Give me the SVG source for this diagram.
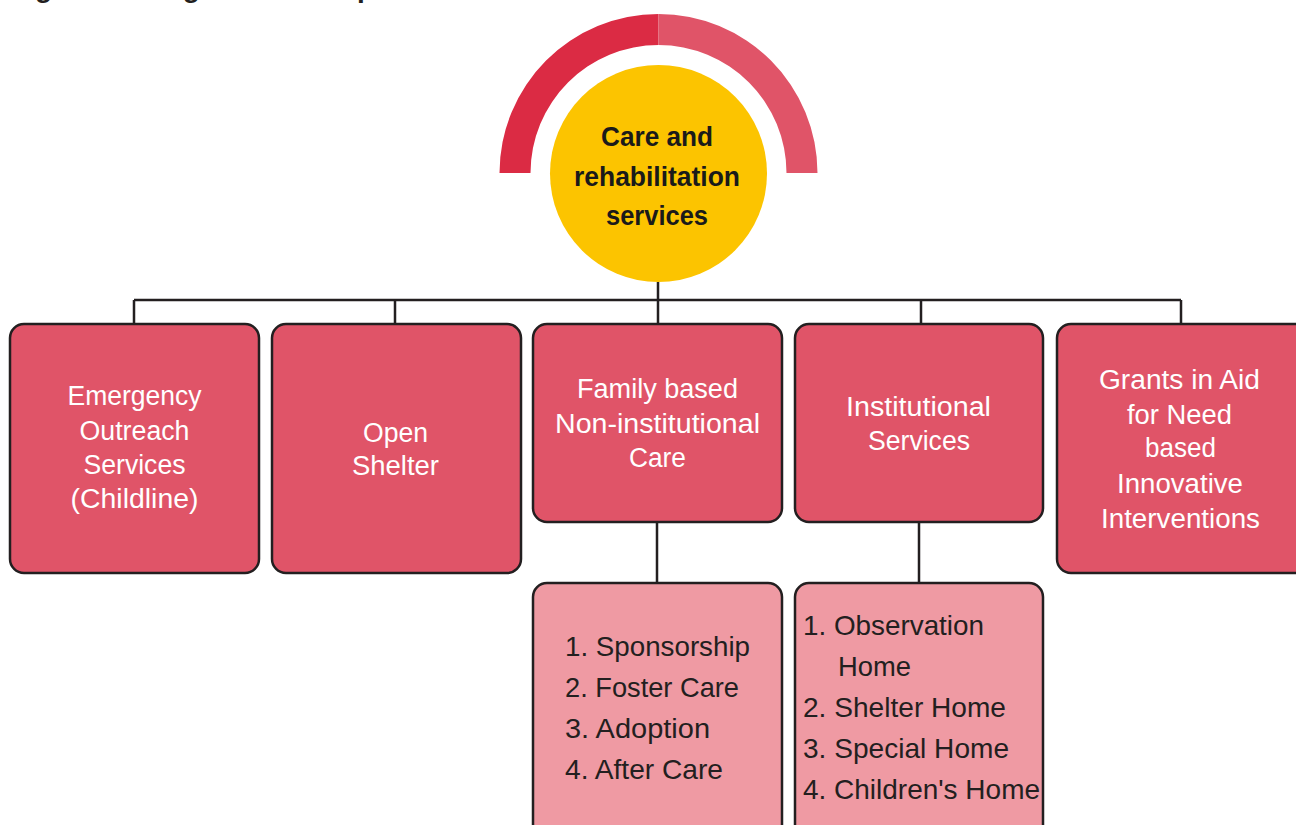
<svg xmlns="http://www.w3.org/2000/svg" width="1296" height="825" viewBox="0 0 1296 825">
<defs>
<style>
.title{font-family:"Liberation Sans",Arial,sans-serif;font-weight:bold;font-size:28px;fill:#231F20}
.ctr{font-family:"Liberation Sans",Arial,sans-serif;font-weight:bold;font-size:27px;fill:#1A1A1A;text-anchor:middle}
.box{fill:#E05468;stroke:#231F20;stroke-width:2.5}
.sub{fill:#EF9AA3;stroke:#231F20;stroke-width:2.5}
.bt{font-family:"Liberation Sans",Arial,sans-serif;font-size:27px;fill:#FFFFFF;text-anchor:middle}
.lt{font-family:"Liberation Sans",Arial,sans-serif;font-size:27.5px;fill:#231F20}
.conn{fill:none;stroke:#231F20;stroke-width:2.5}
</style>
</defs>
<rect width="1296" height="825" fill="#FFFFFF"/>
<text class="title" x="10" y="-3">Figure 3: Programme components of the</text>

<g id="hub">
<path d="M499.5 173 A159 159 0 0 1 658.5 14 L658.5 45 A128 128 0 0 0 530.5 173 Z" fill="#DB2B44"/>
<path d="M658.5 14 A159 159 0 0 1 817.5 173 L786.5 173 A128 128 0 0 0 658.5 45 Z" fill="#E05468"/>
<circle cx="658.5" cy="173.5" r="108.5" fill="#FCC400"/>
<text class="ctr" x="657" y="146" textLength="112" lengthAdjust="spacingAndGlyphs">Care and</text>
<text class="ctr" x="657" y="186" textLength="166" lengthAdjust="spacingAndGlyphs">rehabilitation</text>
<text class="ctr" x="657" y="225" textLength="102" lengthAdjust="spacingAndGlyphs">services</text>
</g>

<g id="connectors">
<path class="conn" d="M658 282 V300 M134 300 H1181 M134 300 V324 M395 300 V324 M658 300 V324 M921 300 V324 M1181 300 V324"/>
<path class="conn" d="M657 522 V583 M919 522 V583"/>
</g>

<g id="emergency">
<rect class="box" x="10" y="324" width="249" height="249" rx="14"/>
<text class="bt" x="134.5" y="405" textLength="134" lengthAdjust="spacingAndGlyphs">Emergency</text>
<text class="bt" x="134.5" y="440" textLength="110" lengthAdjust="spacingAndGlyphs">Outreach</text>
<text class="bt" x="134.5" y="474" textLength="102" lengthAdjust="spacingAndGlyphs">Services</text>
<text class="bt" x="134.5" y="508" textLength="128" lengthAdjust="spacingAndGlyphs">(Childline)</text>
</g>

<g id="open-shelter">
<rect class="box" x="272" y="324" width="249" height="249" rx="14"/>
<text class="bt" x="395.5" y="442" textLength="65" lengthAdjust="spacingAndGlyphs">Open</text>
<text class="bt" x="395.5" y="475" textLength="87" lengthAdjust="spacingAndGlyphs">Shelter</text>
</g>

<g id="family-based">
<rect class="box" x="533" y="324" width="249" height="198" rx="14"/>
<text class="bt" x="657.5" y="398" textLength="161" lengthAdjust="spacingAndGlyphs">Family based</text>
<text class="bt" x="657.5" y="433" textLength="205" lengthAdjust="spacingAndGlyphs">Non-institutional</text>
<text class="bt" x="657.5" y="467" textLength="57" lengthAdjust="spacingAndGlyphs">Care</text>
</g>

<g id="institutional">
<rect class="box" x="795" y="324" width="248" height="198" rx="14"/>
<text class="bt" x="918.5" y="416" textLength="145" lengthAdjust="spacingAndGlyphs">Institutional</text>
<text class="bt" x="919" y="450" textLength="102" lengthAdjust="spacingAndGlyphs">Services</text>
</g>

<g id="grants">
<rect class="box" x="1057" y="324" width="252" height="249" rx="14"/>
<text class="bt" x="1179.5" y="389" textLength="161" lengthAdjust="spacingAndGlyphs">Grants in Aid</text>
<text class="bt" x="1179.5" y="424" textLength="105" lengthAdjust="spacingAndGlyphs">for Need</text>
<text class="bt" x="1180.5" y="457" textLength="71" lengthAdjust="spacingAndGlyphs">based</text>
<text class="bt" x="1180" y="493" textLength="126" lengthAdjust="spacingAndGlyphs">Innovative</text>
<text class="bt" x="1180.5" y="528" textLength="159" lengthAdjust="spacingAndGlyphs">Interventions</text>
</g>

<g id="family-list">
<rect class="sub" x="533" y="583" width="249" height="262" rx="14"/>
<text class="lt" x="565" y="656" textLength="185" lengthAdjust="spacingAndGlyphs">1. Sponsorship</text>
<text class="lt" x="565" y="697" textLength="174" lengthAdjust="spacingAndGlyphs">2. Foster Care</text>
<text class="lt" x="565" y="738" textLength="145" lengthAdjust="spacingAndGlyphs">3. Adoption</text>
<text class="lt" x="565" y="779" textLength="158" lengthAdjust="spacingAndGlyphs">4. After Care</text>
</g>

<g id="institutional-list">
<rect class="sub" x="795" y="583" width="248" height="262" rx="14"/>
<text class="lt" x="803" y="635" textLength="181" lengthAdjust="spacingAndGlyphs">1. Observation</text>
<text class="lt" x="838" y="676" textLength="73" lengthAdjust="spacingAndGlyphs">Home</text>
<text class="lt" x="803" y="717" textLength="203" lengthAdjust="spacingAndGlyphs">2. Shelter Home</text>
<text class="lt" x="803" y="758" textLength="206" lengthAdjust="spacingAndGlyphs">3. Special Home</text>
<text class="lt" x="803" y="799" textLength="237" lengthAdjust="spacingAndGlyphs">4. Children's Home</text>
</g>
</svg>
